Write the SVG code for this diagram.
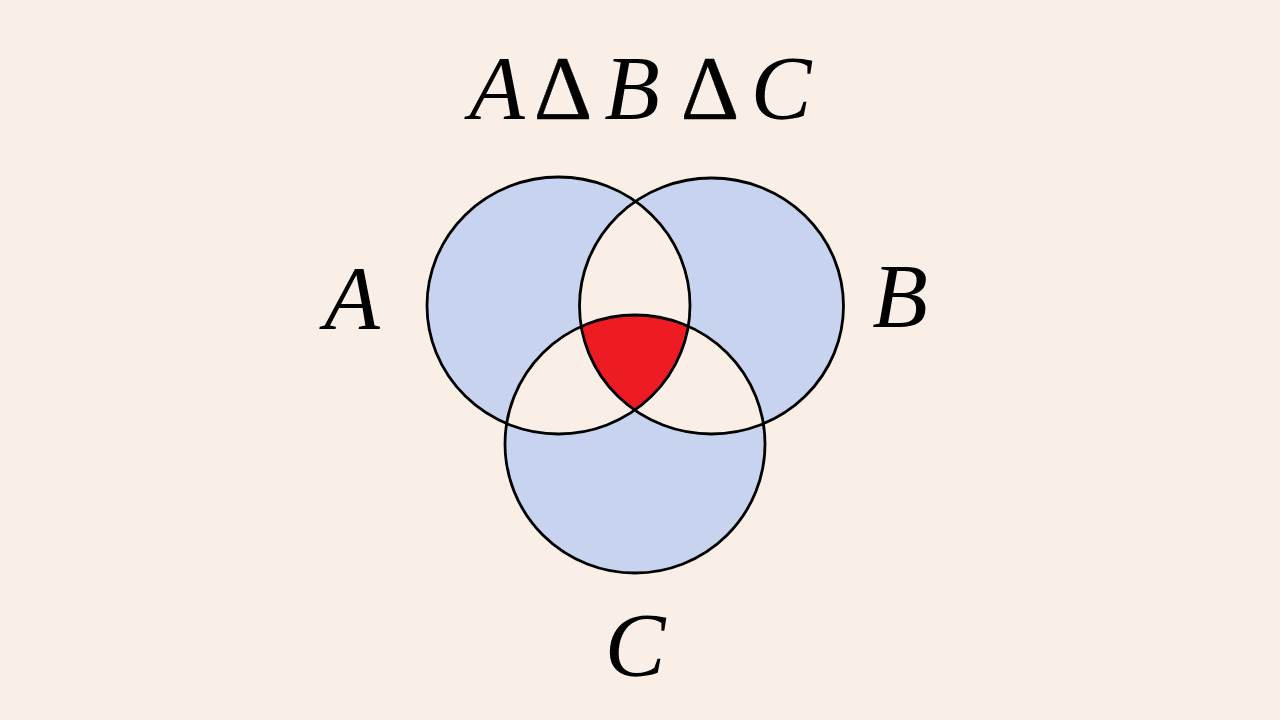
<svg xmlns="http://www.w3.org/2000/svg" width="1280" height="720" viewBox="0 0 1280 720">
<style>
.lbl{font-family:"Liberation Serif","Times New Roman",serif;font-style:italic;font-size:91px;fill:#000;text-anchor:middle}
.op{font-family:"Liberation Serif","Times New Roman",serif;font-size:91px;fill:#000;text-anchor:middle;stroke:#000;stroke-width:0.5}
.ring{fill:none;stroke:#000;stroke-width:2.8}
</style>
<defs>
<clipPath id="clipA"><ellipse cx="558.5" cy="305.5" rx="131.5" ry="128.5"/></clipPath>
<clipPath id="clipB"><ellipse cx="711.5" cy="306" rx="132" ry="128"/></clipPath>
</defs>
<rect width="1280" height="720" fill="#f9efe6"/>
<g id="title">
<text class="lbl" x="497" y="119">A</text>
<text class="op" x="563" y="119">Δ</text>
<text class="lbl" x="632" y="119">B</text>
<text class="op" x="710" y="119">Δ</text>
<text class="lbl" x="781" y="119">C</text>
</g>
<g id="regions">
<path fill="#c8d3ef" fill-rule="evenodd" d="M427,305.5 a131.5,128.5 0 1,0 263,0 a131.5,128.5 0 1,0 -263,0 Z M579.5,306 a132,128 0 1,0 264,0 a132,128 0 1,0 -264,0 Z M505,444 a130,129 0 1,0 260,0 a130,129 0 1,0 -260,0 Z"/>
<g clip-path="url(#clipB)"><ellipse cx="635" cy="444" rx="130" ry="129" fill="#ed1c24" clip-path="url(#clipA)"/></g>
</g>
<g id="setA"><ellipse class="ring" cx="558.5" cy="305.5" rx="131.5" ry="128.5"/><text class="lbl" x="352" y="329">A</text></g>
<g id="setB"><ellipse class="ring" cx="711.5" cy="306" rx="132" ry="128"/><text class="lbl" x="900" y="327">B</text></g>
<g id="setC"><ellipse class="ring" cx="635" cy="444" rx="130" ry="129"/><text class="lbl" x="635" y="676">C</text></g>
</svg>
